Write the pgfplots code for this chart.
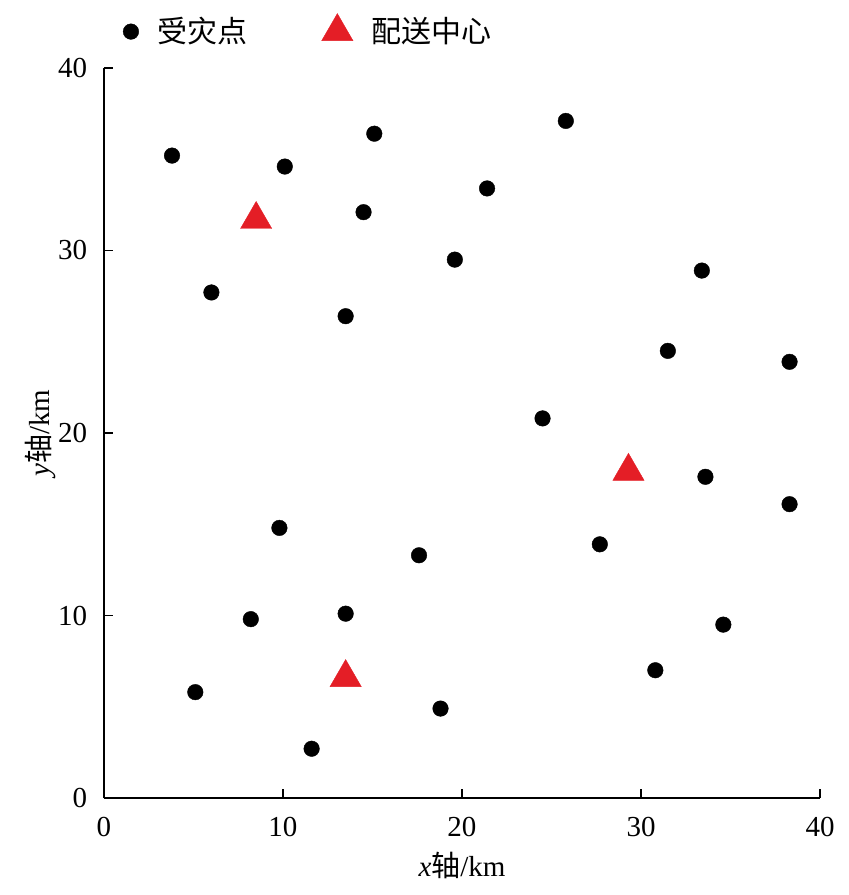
\documentclass[border=0pt]{standalone}
\usepackage{pgfplots}
\pgfplotsset{compat=1.18}
\usepackage{fontspec}
\setmainfont{Liberation Serif}
\newfontfamily\cjk{Noto Sans CJK SC}
\definecolor{mred}{RGB}{228,30,38}
\begin{document}
\fontsize{29}{34}\selectfont
\begin{tikzpicture}
\begin{axis}[
  scale only axis,
  width=716pt, height=730pt,
  xmin=0, xmax=40, ymin=0, ymax=40,
  axis x line*=bottom, axis y line*=left,
  axis line style={-, line width=1.6pt},
  xtick={0,10,20,30,40}, ytick={0,10,20,30,40},
  tick style={black, line width=1.4pt},
  major tick length=9pt,
  tick align=inside,
  /pgf/number format/assume math mode=true,
  ticklabel style={font=\fontsize{29}{34}\selectfont},
  xticklabel style={yshift=-9pt},
  yticklabel style={xshift=-7pt},
  xlabel={\textit{x}{\cjk 轴}/km},
  ylabel={\textit{y}{\cjk 轴}/km},
  label style={font=\fontsize{29}{34}\selectfont},
  xlabel style={at={(axis description cs:0.5,0)}, anchor=center, yshift=-67pt},
  ylabel style={at={(axis description cs:0,0.5)}, anchor=center, yshift=64pt},
  legend columns=2,
  legend image code/.code={\draw[#1] plot coordinates {(0pt,0pt)};},
  legend style={draw=none, fill=none, at={(rel axis cs:0.0223,1.052)}, anchor=west,
    nodes={inner sep=0pt},
    font=\fontsize{30}{34}\selectfont\cjk,
    /tikz/every odd column/.append style={column sep=19pt},
    /tikz/every even column/.append style={column sep=74pt}},
  legend cell align=left,
  clip=false,
]
\addplot[only marks, mark=*, mark size=7.8pt, color=black] coordinates {
(3.8,35.2) (10.1,34.6) (15.1,36.4) (25.8,37.1) (14.5,32.1) (21.4,33.4)
(6.0,27.7) (19.6,29.5) (13.5,26.4) (33.4,28.9) (31.5,24.5) (38.3,23.9)
(24.5,20.8) (33.6,17.6) (38.3,16.1) (9.8,14.8) (17.6,13.3) (27.7,13.9)
(8.2,9.8) (13.5,10.1) (34.6,9.5) (30.8,7.0) (5.1,5.8) (18.8,4.9) (11.6,2.7)
};
\addlegendentry{受灾点}
\addplot[only marks, mark=triangle*, mark size=18pt, color=mred] coordinates {
(8.5,31.7) (29.3,17.9) (13.5,6.6)
};
\addlegendentry{配送中心}
\end{axis}
\pgfresetboundingbox
\path ([shift={(-104pt,-97pt)}]current axis.south west) rectangle ([shift={(29pt,68pt)}]current axis.north east);
\end{tikzpicture}
\end{document}
